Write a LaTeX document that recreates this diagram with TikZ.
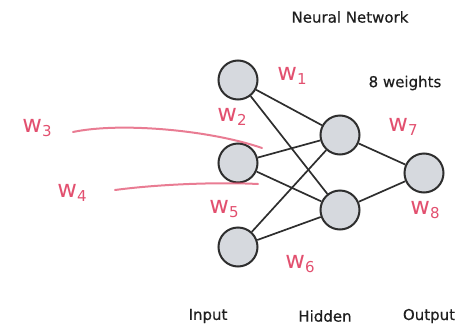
\documentclass[tikz,border=0pt]{standalone}
\usepackage{fontspec}
\setmainfont{DejaVu Sans}
\newfontfamily\handfont{DejaVu Sans}
\newfontfamily\labfont[FakeBold=0.5]{DejaVu Sans}
\definecolor{nodefill}{HTML}{D6D9DE}
\definecolor{edgecol}{HTML}{2E2E2E}
\definecolor{inkpink}{HTML}{E2506F}
\newcommand{\wsub}[1]{w\raisebox{-4pt}{\fontsize{15}{15}\selectfont #1}}
\begin{document}
\begin{tikzpicture}[x=1pt,y=-1pt,
  neuron/.style={circle,draw=edgecol,line width=2pt,fill=nodefill,minimum size=39pt,inner sep=0pt},
  conn/.style={draw=edgecol,line width=1.7pt},
  hw/.style={text=inkpink,font=\handfont\fontsize{24}{24}\selectfont},
  ink/.style={draw=inkpink,line width=2pt,line cap=round,opacity=0.75},
  lbl/.style={font=\labfont\fontsize{15}{17}\selectfont,text=black!88}]
\useasboundingbox (0,0) rectangle (461,327);
% nodes
\node[neuron] (i1) at (238,80) {};
\node[neuron] (i2) at (238,163) {};
\node[neuron] (i3) at (238,247) {};
\node[neuron] (h1) at (340,135) {};
\node[neuron] (h2) at (340,210) {};
\node[neuron] (o1) at (424,173) {};
% connections
\foreach \a in {i1,i2,i3}{\foreach \b in {h1,h2}{\draw[conn] (\a) -- (\b);}}
\draw[conn] (h1) -- (o1);
\draw[conn] (h2) -- (o1);
% printed texts
\node[lbl] (title) at (350,17) {Neural Network};
\node[lbl] (nw) at (405,83) {8 weights};
\node[lbl] (tin) at (208,316) {Input};
\node[lbl] (thid) at (325,316) {Hidden};
\node[lbl] (tout) at (429,316) {Output};
% handwritten weight labels
\node[hw] (w1) at (292,76) {\wsub{1}};
\node[hw] (w2) at (232,117) {\wsub{2}};
\node[hw] (w3) at (37,128) {\wsub{3}};
\node[hw] (w4) at (72,193) {\wsub{4}};
\node[hw] (w5) at (224,209) {\wsub{5}};
\node[hw] (w6) at (300,264) {\wsub{6}};
\node[hw] (w7) at (403,127) {\wsub{7}};
\node[hw] (w8) at (425,210) {\wsub{8}};
% pink strokes
\coordinate (s3a) at (73,132);
\coordinate (s3b) at (262,148);
\coordinate (s4a) at (115,190);
\coordinate (s4b) at (258,184);
\draw[ink] (s3a) .. controls (120,122) and (210,130) .. (s3b);
\draw[ink] (s4a) .. controls (160,184) and (220,182) .. (s4b);
\end{tikzpicture}
\end{document}
